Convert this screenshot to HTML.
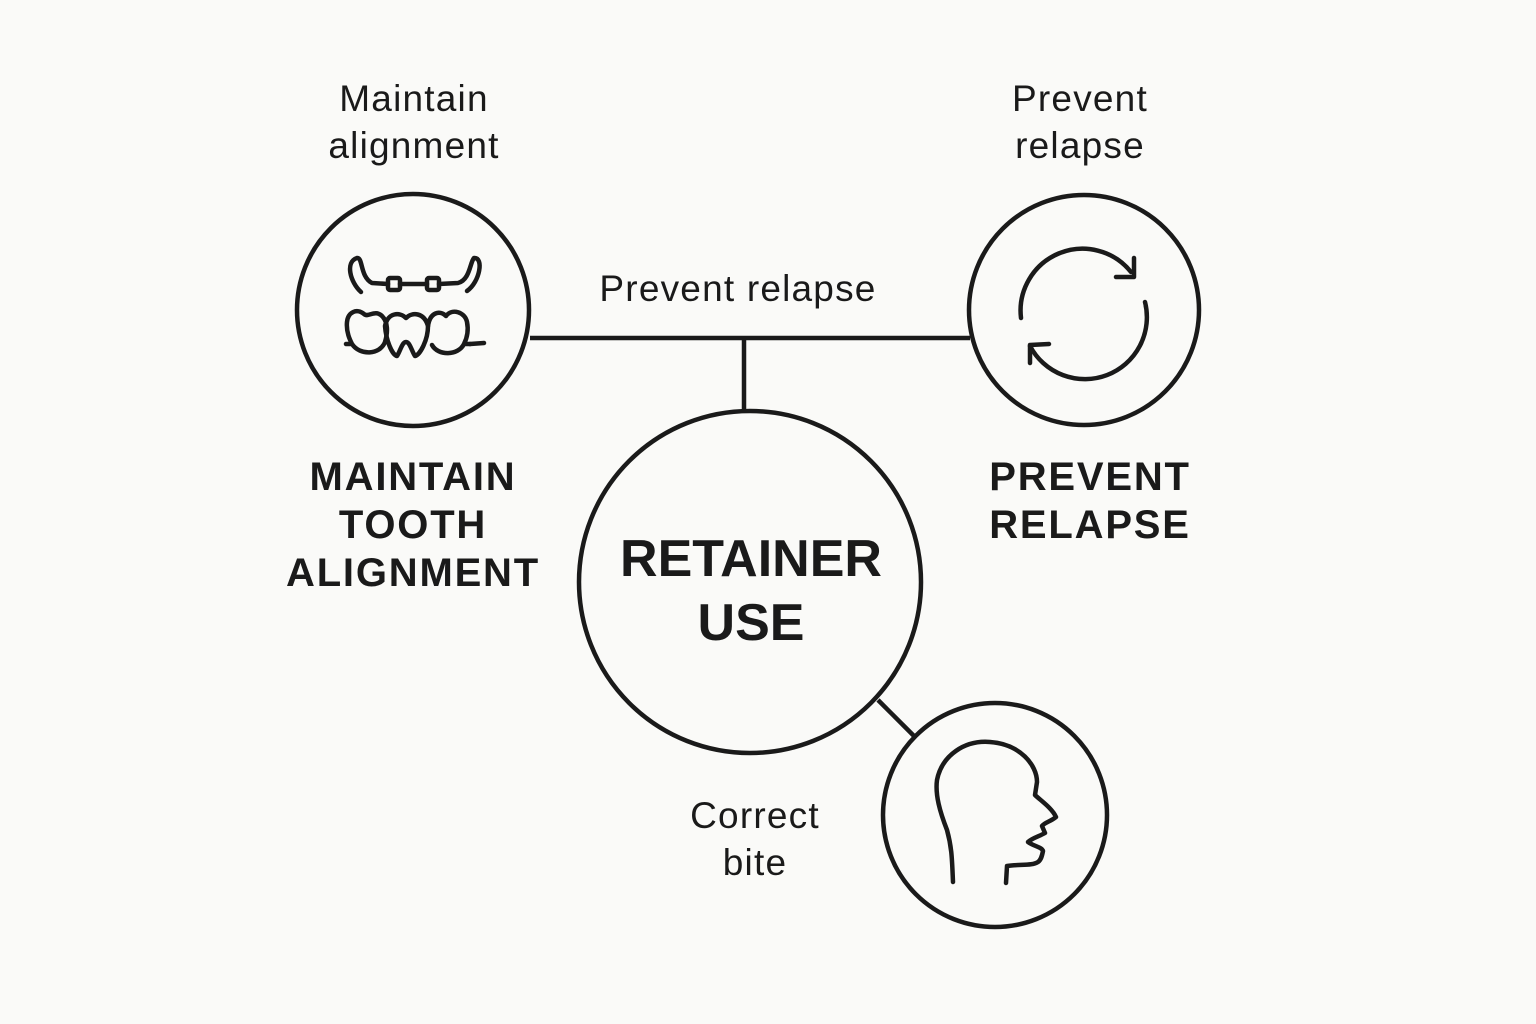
<!DOCTYPE html>
<html><head><meta charset="utf-8"><style>
html,body{margin:0;padding:0;background:#fafaf8;}
svg{display:block;}
text{font-family:"Liberation Sans","DejaVu Sans",sans-serif;fill:#1a1a1a;}
</style></head><body>
<svg width="1536" height="1024" viewBox="0 0 1536 1024" xmlns="http://www.w3.org/2000/svg">
<rect width="1536" height="1024" fill="#fafaf8"/>
<g fill="none" stroke="#1a1a1a" stroke-width="4.5" stroke-linecap="round" stroke-linejoin="round">
<line x1="530" y1="338" x2="970" y2="338" stroke-linecap="butt"/>
<line x1="744" y1="338" x2="744" y2="411" stroke-linecap="butt"/>
<line x1="878" y1="700" x2="915" y2="737" stroke-linecap="butt"/>
<circle cx="413" cy="310" r="116"/>
<circle cx="1084" cy="310" r="115"/>
<circle cx="750" cy="582" r="171"/>
<circle cx="995" cy="815" r="112"/>
<path d="M361,292 C350,282 345,262 357,258 C363,257 360,277 372,283 L388,284"/>
<rect x="388" y="278" width="12" height="12" rx="2"/>
<line x1="400" y1="284" x2="427" y2="284"/>
<rect x="427" y="278" width="12" height="12" rx="2"/>
<path d="M439,284 L458,283 C470,280 470,262 474,258 C484,257 480,282 467,291"/>
<path d="M346,344 L352,344 C360,356 380,355 385,342 C388,332 388,322 382,316 C375,309 368,318 364,314 C357,308 348,312 347,322 C346,332 350,340 352,344"/>
<path d="M385,326 C388,312 400,312 406,318 C412,312 424,312 428,326 C428,340 420,355 415,356 C412,352 410,342 406,342 C402,342 400,352 397,356 C392,355 386,340 385,326"/>
<path d="M428,326 C430,312 440,310 446,316 C452,308 465,312 467,322 C469,332 466,340 464,344 L470,344 M464,344 C458,356 438,356 432,345"/>
<path d="M470,344 L484,343"/>
<path d="M1021,318 A62,62 0 0 1 1131,272"/>
<path d="M1134,258 L1134,277 L1116,277"/>
<path d="M1145,302 A62,62 0 0 1 1030,346"/>
<path d="M1030,363 L1030,345 L1049,344"/>
<path d="M953,882 C952,860 952,848 947,830 C940,812 935,795 937,780 C942,755 965,740 990,742 C1020,744 1037,765 1037,782 L1035,795 C1040,800 1052,808 1056,817 C1050,822 1045,822 1042,826 L1045,833 C1040,836 1032,838 1028,842 C1033,846 1042,847 1043,851 C1042,856 1041,860 1038,862 C1032,866 1020,864 1007,866 L1006,883"/>
</g>
<g font-size="37" text-anchor="middle" letter-spacing="1.2">
<text x="414" y="111">Maintain</text>
<text x="414" y="158">alignment</text>
<text x="1080" y="111">Prevent</text>
<text x="1080" y="158">relapse</text>
<text x="738" y="301">Prevent relapse</text>
<text x="755" y="828">Correct</text>
<text x="755" y="875">bite</text>
</g>
<g font-size="40" font-weight="bold" text-anchor="middle" letter-spacing="1.8">
<text x="413" y="490">MAINTAIN</text>
<text x="413" y="538">TOOTH</text>
<text x="413" y="586">ALIGNMENT</text>
<text x="1090" y="490">PREVENT</text>
<text x="1090" y="538">RELAPSE</text>
</g>
<g font-size="52" font-weight="bold" text-anchor="middle">
<text x="751" y="576">RETAINER</text>
<text x="751" y="640">USE</text>
</g>
</svg>
</body></html>
